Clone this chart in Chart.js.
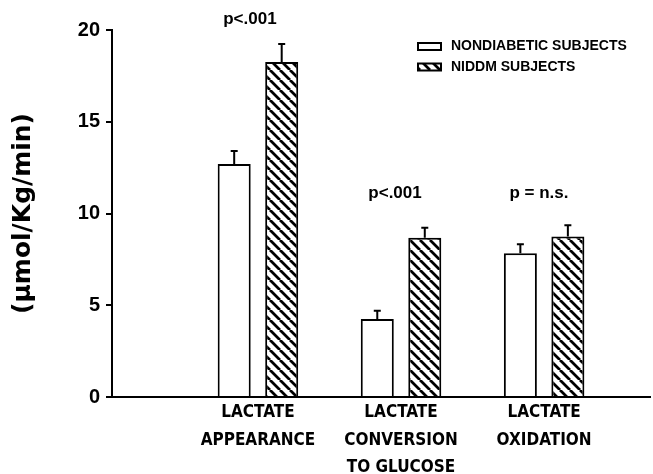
<!DOCTYPE html>
<html>
<head>
<meta charset="utf-8">
<script src="https://cdn.jsdelivr.net/npm/chart.js@4/dist/chart.umd.min.js"></script>
<style>
  html, body { margin: 0; padding: 0; background: #fff; }
  #c { display: block; }
</style>
</head>
<body>
<canvas id="c" width="653" height="474"></canvas>
<script>
// ---- data ----
const categories = [['LACTATE', 'APPEARANCE'], ['LACTATE', 'CONVERSION', 'TO GLUCOSE'], ['LACTATE', 'OXIDATION']];
const categoryX = [1, 2, 3];
const seriesLabels = ['NONDIABETIC SUBJECTS', 'NIDDM SUBJECTS'];
const nondiabetic = [12.7, 4.25, 7.83];
const nondiabeticSEM = [0.71, 0.45, 0.5];
const niddm = [18.26, 8.68, 8.74];
const niddmSEM = [0.98, 0.55, 0.62];
const yTicks = [0, 5, 10, 15, 20];
const pLabels = ['p<.001', 'p<.001', 'p = n.s.'];
const pX = [0.944, 1.958, 2.964];
const pY = [20.6, 11.1, 11.1];

// ---- hatch pattern ----
function makeHatch() {
  const t = document.createElement('canvas');
  t.width = 10; t.height = 10;
  const g = t.getContext('2d');
  g.fillStyle = '#fff';
  g.fillRect(0, 0, 10, 10);
  g.strokeStyle = '#000';
  g.lineWidth = 2.8;
  g.beginPath();
  for (const k of [-10, 0, 10]) {
    g.moveTo(k, 0);
    g.lineTo(k + 10, 10);
  }
  g.stroke();
  return g.createPattern(t, 'repeat');
}
const ctx = document.getElementById('c').getContext('2d');
const hatch = makeHatch();

const errors = [nondiabeticSEM, niddmSEM];

const extras = {
  id: 'extras',
  afterDatasetsDraw(chart) {
    const c = chart.ctx;
    const ys = chart.scales.y, xs = chart.scales.x;
    c.save();
    c.strokeStyle = '#000';
    c.lineWidth = 2;
    chart.data.datasets.forEach((ds, di) => {
      const meta = chart.getDatasetMeta(di);
      meta.data.forEach((el, i) => {
        const v = ds.data[i].y + errors[di][i];
        const top = ys.getPixelForValue(v);
        c.beginPath();
        c.moveTo(el.x, el.y);
        c.lineTo(el.x, top);
        c.moveTo(el.x - 3.5, top);
        c.lineTo(el.x + 3.5, top);
        c.stroke();
      });
    });
    // p-value annotations
    c.fillStyle = '#000';
    c.font = 'bold 17px "Liberation Sans", Arial, sans-serif';
    c.textAlign = 'center';
    c.textBaseline = 'middle';
    pLabels.forEach((t, i) => {
      c.fillText(t, xs.getPixelForValue(pX[i]), ys.getPixelForValue(pY[i]));
    });
    // legend
    const fills = ['#fff', hatch];
    c.font = 'bold 14px "Liberation Sans", Arial, sans-serif';
    c.textAlign = 'left';
    seriesLabels.forEach((t, i) => {
      const y0 = 42 + i * 20.5;
      c.fillStyle = fills[i];
      c.fillRect(418, y0 + 1, 23, 7);
      c.lineWidth = 2;
      c.strokeStyle = '#000';
      c.strokeRect(418, y0 + 1, 23, 7);
      c.fillStyle = '#000';
      c.fillText(t, 451, y0 + 4.5);
    });
    c.restore();
  }
};

new Chart(ctx, {
  type: 'bar',
  data: {
    datasets: [
      {
        label: seriesLabels[0],
        data: categoryX.map((x, i) => ({ x: x, y: nondiabetic[i] })),
        backgroundColor: '#fff',
        borderColor: '#000',
        borderWidth: 2,
        categoryPercentage: 0.664,
        barPercentage: 0.695
      },
      {
        label: seriesLabels[1],
        data: categoryX.map((x, i) => ({ x: x, y: niddm[i] })),
        backgroundColor: hatch,
        borderColor: '#000',
        borderWidth: 2,
        categoryPercentage: 0.664,
        barPercentage: 0.695
      }
    ]
  },
  options: {
    responsive: false,
    animation: false,
    layout: { padding: { top: 30, left: 3, right: 3, bottom: 0 } },
    plugins: { legend: { display: false }, tooltip: { enabled: false } },
    scales: {
      x: {
        type: 'linear',
        offset: false,
        min: -0.02,
        max: 3.74,
        afterBuildTicks: (s) => { s.ticks = categoryX.map(v => ({ value: v })); },
        afterFit: (s) => { s.height = 77; },
        grid: { display: false, drawTicks: false, offset: false },
        border: { display: true, color: '#000', width: 2 },
        ticks: {
          autoSkip: false,
          maxRotation: 0,
          padding: 2,
          color: '#000',
          font: { family: '"DejaVu Sans Condensed", "Liberation Sans", Arial, sans-serif', size: 17, weight: 'bold', lineHeight: 1.62 },
          callback: (v) => { const i = categoryX.indexOf(v); return i >= 0 ? categories[i] : ''; }
        }
      },
      y: {
        min: 0,
        max: 20,
        afterBuildTicks: (s) => { s.ticks = yTicks.map(v => ({ value: v })); },
        afterFit: (s) => { s.width = 109; },
        grid: { drawOnChartArea: false, color: '#000', lineWidth: 2, tickLength: 6 },
        border: { display: true, color: '#000', width: 2 },
        ticks: {
          padding: 6,
          color: '#000',
          font: { family: '"Liberation Sans", Arial, sans-serif', size: 20, weight: 'bold' }
        },
        title: {
          display: true,
          text: '(µmol/Kg/min)',
          color: '#000',
          padding: { top: 5, bottom: 4 },
          font: { family: '"DejaVu Sans", sans-serif', size: 25, weight: 'bold' }
        }
      }
    }
  },
  plugins: [extras]
});
</script>
</body>
</html>
